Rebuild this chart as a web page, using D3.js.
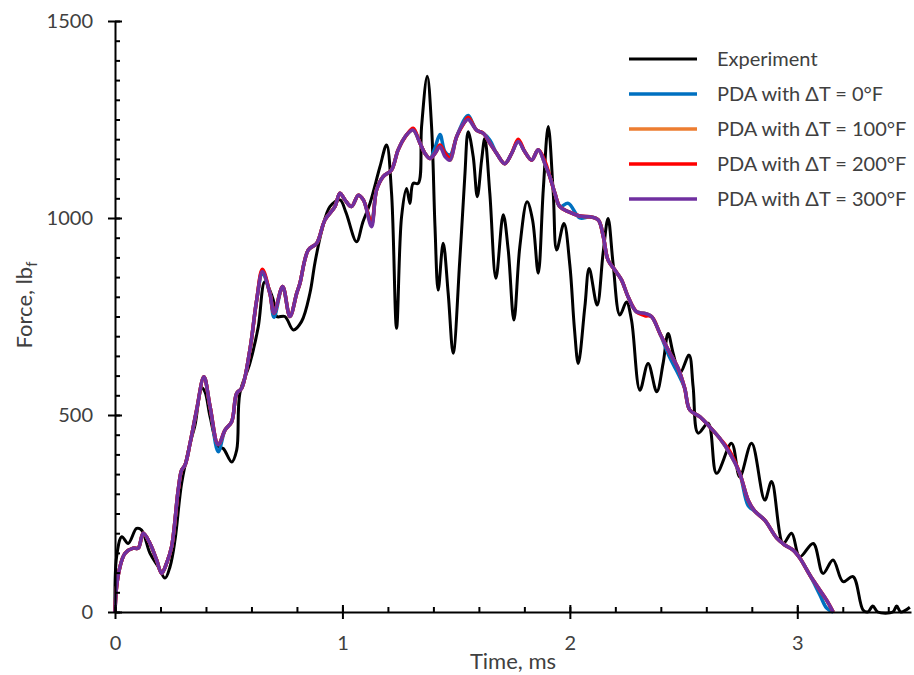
<!DOCTYPE html>
<html>
<head>
<meta charset="utf-8">
<script src="https://cdn.jsdelivr.net/npm/d3@7"></script>
<style>
  body { margin: 0; background: #fff; }
  svg { font-family: Lato, "Open Sans", sans-serif; }
</style>
</head>
<body>
<div id="chart"></div>
<script>
// experiment trace (time in ms, force in lbf)
const expTime = [0, 0.007, 0.03, 0.058, 0.095, 0.117, 0.154, 0.19, 0.22, 0.242,
  0.264, 0.293, 0.33, 0.352, 0.381, 0.396, 0.418, 0.454, 0.476, 0.513,
  0.535, 0.549, 0.593, 0.63, 0.659, 0.696, 0.711, 0.747, 0.784, 0.82,
  0.857, 0.879, 0.91, 0.945, 0.989, 1.015, 1.062, 1.09, 1.121, 1.165,
  1.194, 1.216, 1.238, 1.26, 1.282, 1.297, 1.311, 1.333, 1.348, 1.373,
  1.392, 1.407, 1.421, 1.443, 1.465, 1.487, 1.516, 1.538, 1.553, 1.575,
  1.593, 1.612, 1.626, 1.648, 1.675, 1.707, 1.729, 1.754, 1.78, 1.812,
  1.836, 1.861, 1.883, 1.905, 1.927, 1.942, 1.974, 2.0, 2.02, 2.037,
  2.066, 2.085, 2.12, 2.146, 2.168, 2.19, 2.22, 2.249, 2.271, 2.308,
  2.344, 2.382, 2.41, 2.432, 2.454, 2.484, 2.524, 2.542, 2.564, 2.608,
  2.645, 2.711, 2.747, 2.799, 2.857, 2.887, 2.938, 2.975, 3.011, 3.07,
  3.113, 3.157, 3.201, 3.245, 3.289, 3.31, 3.332, 3.354, 3.42, 3.437,
  3.455, 3.495];
const expForce = [0, 140, 191, 174, 212, 208, 149, 115, 86, 115,
  183, 327, 428, 475, 569, 558, 496, 420, 415, 381,
  411, 555, 631, 724, 838, 792, 750, 750, 716, 737,
  809, 886, 970, 1029, 1046, 1015, 940, 990, 1037, 1130,
  1185, 1063, 720, 1003, 1075, 1037, 1088, 1088, 1232, 1360,
  1232, 978, 817, 936, 809, 657, 893, 1105, 1219, 1156,
  1054, 1147, 1202, 1063, 847, 1008, 919, 741, 927, 1041,
  995, 860, 1071, 1232, 1063, 919, 986, 880, 720, 631,
  775, 872, 779, 910, 999, 885, 754, 787, 741, 563,
  631, 559, 631, 707, 657, 606, 652, 572, 454, 479,
  352, 428, 343, 428, 284, 331, 174, 200, 140, 174,
  98, 132, 77, 90, 5, 0, 15, 0, 0, 15,
  0, 12];

// PDA traces share one time grid
const pdaTime = [0, 0.007, 0.022, 0.044, 0.08, 0.102, 0.124, 0.154, 0.183, 0.205,
  0.227, 0.249, 0.278, 0.293, 0.308, 0.33, 0.359, 0.391, 0.418, 0.454,
  0.484, 0.513, 0.535, 0.557, 0.593, 0.623, 0.648, 0.681, 0.699, 0.737,
  0.769, 0.799, 0.813, 0.85, 0.887, 0.923, 0.967, 0.989, 1.011, 1.04,
  1.07, 1.092, 1.128, 1.15, 1.179, 1.216, 1.245, 1.282, 1.311, 1.341,
  1.363, 1.385, 1.407, 1.429, 1.451, 1.473, 1.502, 1.538, 1.553, 1.59,
  1.619, 1.648, 1.678, 1.714, 1.744, 1.773, 1.802, 1.832, 1.861, 1.89,
  1.912, 1.934, 1.956, 1.993, 2.044, 2.088, 2.125, 2.147, 2.168, 2.198,
  2.227, 2.256, 2.293, 2.33, 2.359, 2.396, 2.44, 2.476, 2.505, 2.527,
  2.571, 2.615, 2.659, 2.703, 2.747, 2.784, 2.813, 2.857, 2.909, 2.945,
  2.982, 3.011, 3.055, 3.099, 3.129, 3.158];
const pda0 = [0, 64, 115, 149, 162, 162, 200, 174, 132, 98,
  124, 166, 310, 360, 373, 428, 513, 597, 521, 407,
  462, 483, 555, 568, 665, 792, 858, 809, 748, 826,
  750, 809, 834, 919, 936, 995, 1029, 1063, 1046, 1029,
  1058, 1046, 992, 1071, 1105, 1122, 1173, 1211, 1223, 1190,
  1164, 1151, 1178, 1212, 1168, 1160, 1206, 1252, 1260, 1223,
  1215, 1198, 1164, 1138, 1164, 1194, 1168, 1147, 1173, 1138,
  1105, 1063, 1029, 1037, 1000, 1003, 995, 953, 893, 868,
  843, 800, 762, 758, 750, 707, 645, 605, 568, 513,
  496, 470, 441, 403, 352, 270, 256, 233, 188, 170,
  157, 137, 94, 44, 10, 0];
const pda100 = [0, 64, 115, 149, 162, 162, 200, 174, 132, 98,
  124, 166, 310, 360, 373, 428, 513, 597, 521, 425,
  462, 483, 555, 568, 665, 792, 866, 809, 759, 826,
  750, 809, 834, 919, 936, 995, 1029, 1063, 1046, 1029,
  1058, 1046, 984, 1071, 1105, 1122, 1173, 1211, 1223, 1190,
  1164, 1151, 1164, 1181, 1162, 1147, 1206, 1244, 1254, 1223,
  1215, 1190, 1164, 1138, 1164, 1197, 1168, 1147, 1173, 1138,
  1105, 1063, 1029, 1016, 1005, 1003, 995, 953, 893, 868,
  843, 800, 762, 758, 750, 707, 657, 619, 568, 513,
  496, 470, 441, 403, 352, 284, 256, 233, 188, 170,
  157, 137, 94, 56, 30, 0];
const pda200 = [0, 64, 115, 149, 162, 162, 200, 174, 132, 98,
  124, 166, 310, 360, 373, 428, 513, 597, 521, 425,
  462, 483, 555, 568, 665, 792, 870, 809, 759, 826,
  750, 809, 834, 919, 936, 995, 1029, 1063, 1046, 1029,
  1058, 1046, 988, 1071, 1105, 1122, 1173, 1211, 1228, 1190,
  1164, 1151, 1164, 1185, 1165, 1152, 1206, 1244, 1256, 1223,
  1215, 1190, 1164, 1138, 1164, 1200, 1168, 1147, 1173, 1145,
  1105, 1063, 1029, 1016, 1005, 1003, 995, 953, 893, 868,
  843, 800, 762, 752, 750, 707, 657, 619, 568, 513,
  496, 470, 441, 408, 352, 284, 256, 233, 188, 170,
  157, 137, 94, 56, 30, 0];
const pda300 = [0, 64, 115, 149, 162, 162, 200, 174, 132, 98,
  124, 166, 310, 360, 373, 428, 513, 597, 521, 425,
  462, 483, 555, 568, 665, 792, 864, 809, 759, 826,
  750, 809, 834, 919, 936, 995, 1029, 1063, 1046, 1029,
  1058, 1046, 978, 1071, 1105, 1122, 1173, 1211, 1223, 1190,
  1164, 1151, 1164, 1181, 1156, 1147, 1206, 1244, 1250, 1223,
  1215, 1190, 1164, 1138, 1164, 1194, 1168, 1147, 1173, 1138,
  1105, 1063, 1029, 1016, 1005, 1003, 995, 953, 893, 868,
  843, 800, 762, 758, 750, 707, 657, 619, 568, 513,
  496, 470, 441, 403, 352, 284, 256, 233, 188, 170,
  157, 137, 94, 56, 30, 0];

const seriesNames = ["Experiment", "PDA with ΔT = 0°F", "PDA with ΔT = 100°F",
  "PDA with ΔT = 200°F", "PDA with ΔT = 300°F"];
const seriesColors = ["#000000", "#0070C0", "#ED7D31", "#FF0000", "#7030A0"];

const xMajor = [0, 1, 2, 3];
const yMajor = [0, 500, 1000, 1500];

const width = 914, height = 675;
const margin = { top: 21, right: 3, bottom: 63, left: 115 };

const series = [
  { name: seriesNames[0], color: seriesColors[0], w: 3, pts: expTime.map((t, i) => [t, expForce[i]]) },
  { name: seriesNames[1], color: seriesColors[1], w: 3.5, pts: pdaTime.map((t, i) => [t, pda0[i]]) },
  { name: seriesNames[2], color: seriesColors[2], w: 3.5, pts: pdaTime.map((t, i) => [t, pda100[i]]) },
  { name: seriesNames[3], color: seriesColors[3], w: 3.5, pts: pdaTime.map((t, i) => [t, pda200[i]]) },
  { name: seriesNames[4], color: seriesColors[4], w: 3.5, pts: pdaTime.map((t, i) => [t, pda300[i]]) }
];

const svg = d3.select("#chart")
  .append("svg")
  .attr("width", width)
  .attr("height", height)
  .style("background-color", "white");

const x = d3.scaleLinear()
  .domain([0, 3.5])
  .range([margin.left, width - margin.right]);

const y = d3.scaleLinear()
  .domain([0, 1500])
  .range([height - margin.bottom, margin.top]);

const textColor = "#404040";

// curves (experiment first, purple on top)
const line = d3.line()
  .x(d => x(d[0]))
  .y(d => y(d[1]))
  .curve(d3.curveCatmullRom.alpha(0.5));

svg.append("g")
  .selectAll("path")
  .data(series)
  .enter().append("path")
  .attr("d", d => line(d.pts))
  .attr("fill", "none")
  .attr("stroke", d => d.color)
  .attr("stroke-width", d => d.w)
  .attr("stroke-linejoin", "round");

// y axis: labels + major ticks to the left
svg.append("g")
  .attr("transform", `translate(${x(0)},0)`)
  .call(d3.axisLeft(y).tickValues(yMajor).tickSize(7).tickSizeOuter(0).tickPadding(15).tickFormat(d3.format("d")));

// minor ticks every 50 on the inside, majors crossing
svg.append("g")
  .attr("transform", `translate(${x(0)},0)`)
  .call(d3.axisRight(y).tickValues(d3.range(0, 1501, 50)).tickSize(5).tickSizeOuter(0).tickFormat(""))
  .call(g => g.select(".domain").remove());
svg.append("g")
  .attr("transform", `translate(${x(0)},0)`)
  .call(d3.axisRight(y).tickValues(yMajor).tickSize(7).tickSizeOuter(0).tickFormat(""))
  .call(g => g.select(".domain").remove());

// x axis
const xAxis = svg.append("g")
  .attr("transform", `translate(0,${y(0)})`)
  .call(d3.axisBottom(x).tickValues(xMajor).tickSize(7).tickSizeOuter(0).tickFormat(d3.format("d")));
xAxis.selectAll("text").attr("y", 38).attr("dy", null);

svg.append("g")
  .attr("transform", `translate(0,${y(0)})`)
  .call(d3.axisTop(x).tickValues(d3.range(0, 3.51, 0.2)).tickSize(5).tickSizeOuter(0).tickFormat(""))
  .call(g => g.select(".domain").remove());
svg.append("g")
  .attr("transform", `translate(0,${y(0)})`)
  .call(d3.axisTop(x).tickValues(xMajor).tickSize(7).tickSizeOuter(0).tickFormat(""))
  .call(g => g.select(".domain").remove());

// axis styling
svg.selectAll(".domain, .tick line")
  .attr("stroke", "#000")
  .attr("stroke-width", 2);
svg.selectAll(".tick text")
  .attr("fill", textColor)
  .style("font-size", "20px")
  .style("font-family", "Lato, sans-serif");

// axis titles
svg.append("text")
  .attr("x", (x(0) + x(3.5)) / 2)
  .attr("y", 669)
  .attr("text-anchor", "middle")
  .attr("fill", textColor)
  .style("font-size", "22px")
  .text("Time, ms");

const yTitle = svg.append("text")
  .attr("transform", "translate(32,305) rotate(-90)")
  .attr("text-anchor", "middle")
  .attr("fill", textColor)
  .style("font-size", "22px");
yTitle.append("tspan").text("Force, lb");
yTitle.append("tspan").attr("dy", 5).style("font-size", "15px").text("f");

// legend
const legend = svg.append("g")
  .selectAll("g")
  .data(series)
  .enter().append("g")
  .attr("transform", (d, i) => `translate(629,${59 + i * 35})`);

legend.append("line")
  .attr("x1", 0)
  .attr("x2", 68)
  .attr("stroke", d => d.color)
  .attr("stroke-width", d => d.w);

legend.append("text")
  .attr("x", 88)
  .attr("dy", "0.35em")
  .attr("fill", textColor)
  .style("font-size", "20px")
  .text(d => d.name);
</script>
</body>
</html>
